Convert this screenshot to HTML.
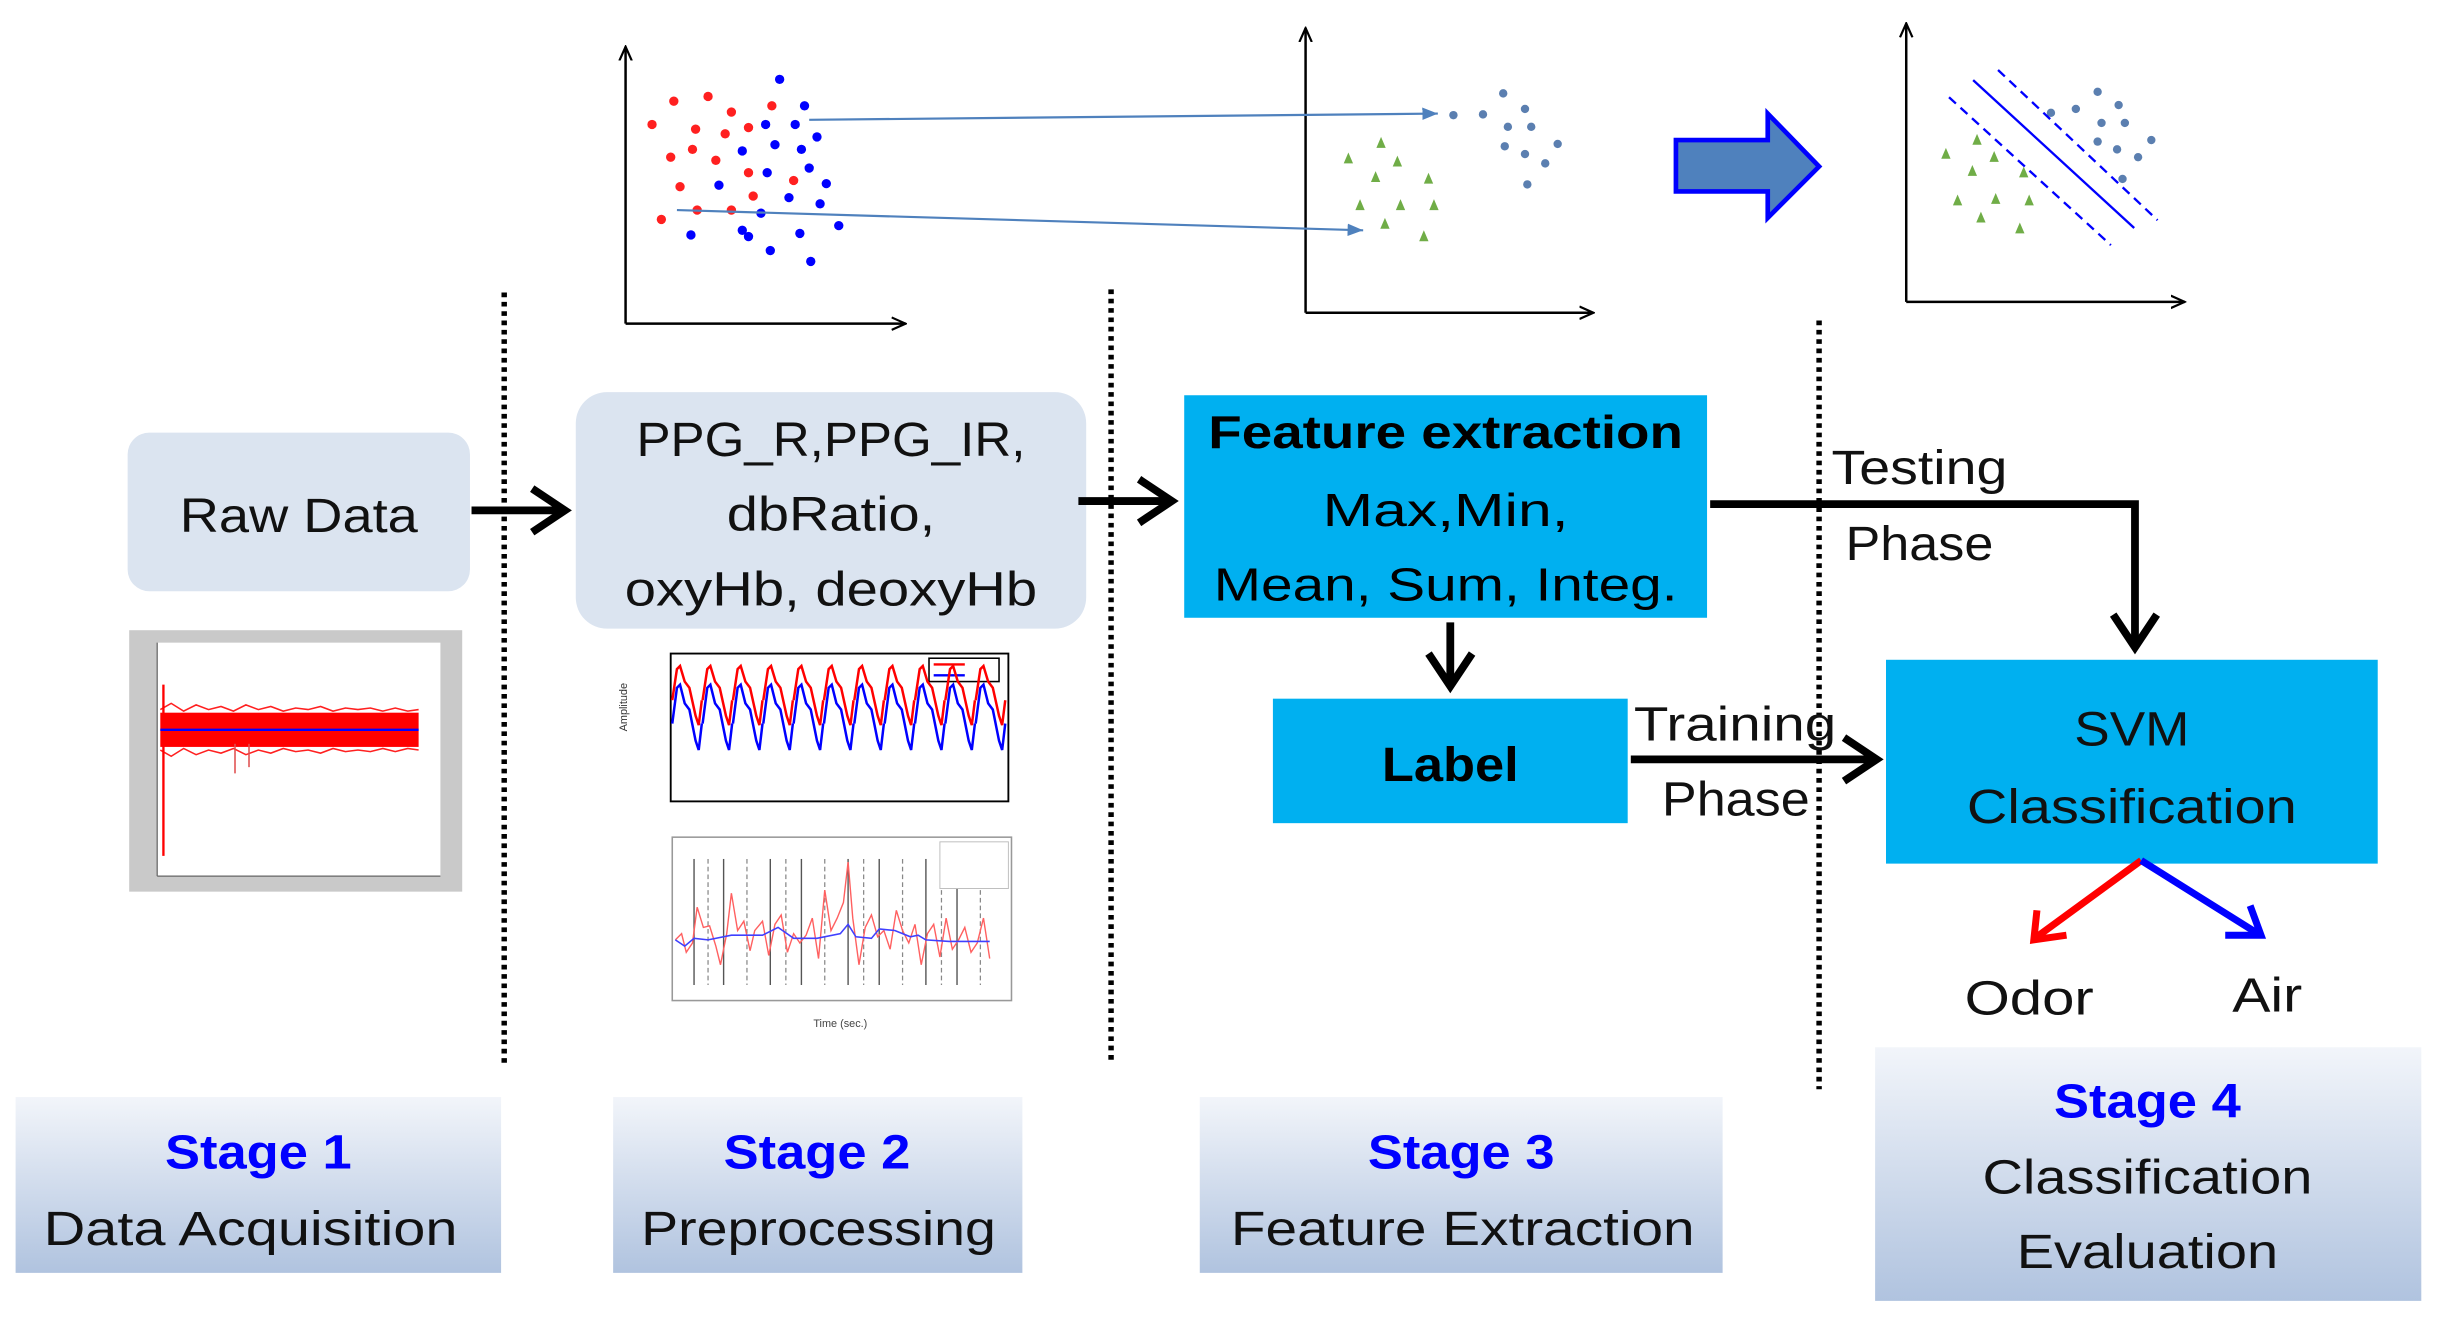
<!DOCTYPE html>
<html><head><meta charset="utf-8"><style>
html,body{margin:0;padding:0;background:#fff;}
svg{display:block;}
text{font-family:"Liberation Sans",sans-serif;}
</style></head><body>
<svg width="2440" height="1318" viewBox="0 0 1568 847" xmlns="http://www.w3.org/2000/svg">
<defs>
<linearGradient id="sg" x1="0" y1="0" x2="0" y2="1">
<stop offset="0" stop-color="#f2f5fa"/><stop offset="1" stop-color="#b0c3df"/>
</linearGradient>
<marker id="ah" markerWidth="10" markerHeight="10" refX="9" refY="5" orient="auto" markerUnits="userSpaceOnUse">
<path d="M0,1 L9,5 L0,9" fill="none" stroke="#000" stroke-width="1.4"/></marker>
<marker id="ab" markerWidth="12" markerHeight="10" refX="10" refY="5" orient="auto" markerUnits="userSpaceOnUse">
<path d="M0,1 L10,5 L0,9 z" fill="#4f81bd"/></marker>
<g id="ppgR"><polyline points="0,30 3,10 5,8 8,18 11,22 15,40 17,46 19,30" fill="none" stroke="#ff0000" stroke-width="1.6"/></g>
<g id="ppgB"><polyline points="0,45 3,22 5,20 8,32 11,36 15,56 17,62 19,45" fill="none" stroke="#0000ff" stroke-width="1.6"/></g>
</defs>

<g stroke="#000" stroke-width="1.6">
<line x1="402" y1="208" x2="402" y2="30" marker-end="url(#ah)"/>
<line x1="402" y1="208" x2="582" y2="208" marker-end="url(#ah)"/>
<line x1="839" y1="201" x2="839" y2="18" marker-end="url(#ah)"/>
<line x1="839" y1="201" x2="1024" y2="201" marker-end="url(#ah)"/>
<line x1="1225" y1="194" x2="1225" y2="15" marker-end="url(#ah)"/>
<line x1="1225" y1="194" x2="1404" y2="194" marker-end="url(#ah)"/>
</g>
<g fill="#ff2020">
<circle cx="433" cy="65" r="3"/><circle cx="455" cy="62" r="3"/><circle cx="470" cy="72" r="3"/><circle cx="496" cy="68" r="3"/>
<circle cx="419" cy="80" r="3"/><circle cx="447" cy="83" r="3"/><circle cx="466" cy="86" r="3"/><circle cx="481" cy="82" r="3"/>
<circle cx="431" cy="101" r="3"/><circle cx="445" cy="96" r="3"/><circle cx="460" cy="103" r="3"/><circle cx="481" cy="111" r="3"/>
<circle cx="510" cy="116" r="3"/><circle cx="437" cy="120" r="3"/><circle cx="448" cy="135" r="3"/><circle cx="470" cy="135" r="3"/>
<circle cx="425" cy="141" r="3"/><circle cx="484" cy="126" r="3"/>
</g>
<g fill="#0000ff">
<circle cx="501" cy="51" r="3"/><circle cx="517" cy="68" r="3"/><circle cx="492" cy="80" r="3"/><circle cx="511" cy="80" r="3"/>
<circle cx="525" cy="88" r="3"/><circle cx="477" cy="97" r="3"/><circle cx="498" cy="93" r="3"/><circle cx="515" cy="96" r="3"/>
<circle cx="462" cy="119" r="3"/><circle cx="493" cy="111" r="3"/><circle cx="520" cy="108" r="3"/><circle cx="531" cy="118" r="3"/>
<circle cx="507" cy="127" r="3"/><circle cx="527" cy="131" r="3"/><circle cx="489" cy="137" r="3"/><circle cx="539" cy="145" r="3"/>
<circle cx="444" cy="151" r="3"/><circle cx="481" cy="152" r="3"/><circle cx="514" cy="150" r="3"/><circle cx="495" cy="161" r="3"/>
<circle cx="521" cy="168" r="3"/><circle cx="477" cy="148" r="3"/>
</g>
<g stroke="#4f81bd" stroke-width="1.4">
<line x1="520" y1="77" x2="924" y2="73" marker-end="url(#ab)"/>
<line x1="435" y1="135" x2="876" y2="148" marker-end="url(#ab)"/>
</g>
<g fill="#5b7fb0">
<circle cx="934" cy="74" r="2.7"/><circle cx="953" cy="73.5" r="2.7"/><circle cx="966" cy="60" r="2.7"/><circle cx="980" cy="70" r="2.7"/>
<circle cx="969" cy="81.5" r="2.7"/><circle cx="984" cy="81.5" r="2.7"/><circle cx="967" cy="94" r="2.7"/><circle cx="980" cy="99" r="2.7"/>
<circle cx="1001" cy="92.5" r="2.7"/><circle cx="993" cy="105" r="2.7"/><circle cx="981.5" cy="118.5" r="2.7"/>
<circle cx="1348" cy="59" r="2.7"/><circle cx="1361.5" cy="67.5" r="2.7"/><circle cx="1334" cy="70" r="2.7"/><circle cx="1318" cy="72.5" r="2.7"/>
<circle cx="1350.5" cy="79" r="2.7"/><circle cx="1365.5" cy="79" r="2.7"/><circle cx="1382.5" cy="90" r="2.7"/><circle cx="1348" cy="91" r="2.7"/>
<circle cx="1360.5" cy="96" r="2.7"/><circle cx="1374" cy="101" r="2.7"/><circle cx="1364" cy="115" r="2.7"/>
</g>
<g fill="#70ad47">
<path d="M866.5,98 l-3,7 h6z M887.5,88 l-3,7 h6z M898,100 l-3,7 h6z M884,110 l-3,7 h6z M918,111 l-3,7 h6z M874,128 l-3,7 h6z M900,128 l-3,7 h6z M921.5,128 l-3,7 h6z M890,140 l-3,7 h6z M915,148 l-3,7 h6z"/>
<path d="M1250.5,95 l-3,7 h6z M1270.5,86 l-3,7 h6z M1281.5,97 l-3,7 h6z M1267.5,106 l-3,7 h6z M1300.5,107 l-3,7 h6z M1258,125 l-3,7 h6z M1282.5,124 l-3,7 h6z M1304,125 l-3,7 h6z M1273,136 l-3,7 h6z M1298,143 l-3,7 h6z"/>
</g>
<g stroke="#0000ff" stroke-width="1.5">
<line x1="1268" y1="51.5" x2="1371.5" y2="146.5"/>
<line x1="1284" y1="45" x2="1386.5" y2="141.5" stroke-dasharray="6,4"/>
<line x1="1252.5" y1="62.5" x2="1356.5" y2="157.5" stroke-dasharray="6,4"/>
</g>
<path d="M1077,90 H1136 V73 L1169,107 L1136,140 V123 H1077 Z" fill="#4f81bd" stroke="#0000ff" stroke-width="3"/>

<g stroke="#000" stroke-width="3.5" stroke-dasharray="3,3">
<line x1="324" y1="188" x2="324" y2="686"/>
<line x1="714" y1="186" x2="714" y2="684"/>
<line x1="1169" y1="206" x2="1169" y2="700"/>
</g>

<rect x="82" y="278" width="220" height="102" rx="14" fill="#dbe4f0"/>
<text x="192" y="342" font-size="31" text-anchor="middle" fill="#111" textLength="153" lengthAdjust="spacingAndGlyphs">Raw Data</text>
<rect x="370" y="252" width="328" height="152" rx="20" fill="#dbe4f0"/>
<g font-size="31" text-anchor="middle" fill="#111">
<text x="534" y="293" textLength="250" lengthAdjust="spacingAndGlyphs">PPG_R,PPG_IR,</text>
<text x="534" y="341" textLength="134" lengthAdjust="spacingAndGlyphs">dbRatio,</text>
<text x="534" y="389" textLength="265" lengthAdjust="spacingAndGlyphs">oxyHb, deoxyHb</text>
</g>

<rect x="761" y="254" width="336" height="143" fill="#00b0f0"/>
<g font-size="30" text-anchor="middle" fill="#000">
<text x="929" y="288" font-weight="bold" textLength="305" lengthAdjust="spacingAndGlyphs">Feature extraction</text>
<text x="929" y="338" textLength="158" lengthAdjust="spacingAndGlyphs">Max,Min,</text>
<text x="929" y="386" textLength="298" lengthAdjust="spacingAndGlyphs">Mean, Sum, Integ.</text>
</g>
<rect x="818" y="449" width="228" height="80" fill="#00b0f0"/>
<text x="932" y="502" font-size="31" font-weight="bold" text-anchor="middle" textLength="88" lengthAdjust="spacingAndGlyphs">Label</text>
<rect x="1212" y="424" width="316" height="131" fill="#00b0f0"/>
<g font-size="31" text-anchor="middle" fill="#111">
<text x="1370" y="479" textLength="74" lengthAdjust="spacingAndGlyphs">SVM</text>
<text x="1370" y="529" textLength="212" lengthAdjust="spacingAndGlyphs">Classification</text>
</g>

<g stroke="#000" stroke-width="5" fill="none">
<line x1="303" y1="328" x2="362" y2="328"/><path d="M342,314 L363,328 L342,342"/>
<line x1="693" y1="322" x2="752" y2="322"/><path d="M732,308 L753,322 L732,336"/>
<line x1="932" y1="400" x2="932" y2="440"/><path d="M918,420 L932,441 L946,420"/>
<line x1="1048" y1="488" x2="1205" y2="488"/><path d="M1185,474 L1206,488 L1185,502"/>
<path d="M1099,324 H1372 V415"/><path d="M1358,395 L1372,416 L1386,395"/>
</g>
<g font-size="31" fill="#111">
<text x="1050" y="476" textLength="130" lengthAdjust="spacingAndGlyphs">Training</text>
<text x="1068" y="524" textLength="95" lengthAdjust="spacingAndGlyphs">Phase</text>
<text x="1177" y="311" textLength="113" lengthAdjust="spacingAndGlyphs">Testing</text>
<text x="1186" y="360" textLength="95" lengthAdjust="spacingAndGlyphs">Phase</text>
</g>

<g stroke-width="4.5" fill="none">
<path d="M1376,553 L1309,602" stroke="#ff0000"/><path d="M1309,585 L1307,604 L1328,601" stroke="#ff0000"/>
<path d="M1376,553 L1451,600" stroke="#0000ff"/><path d="M1430,601 L1453,601 L1446,582" stroke="#0000ff"/>
</g>
<text x="1304" y="652" font-size="31" text-anchor="middle" fill="#111" textLength="83" lengthAdjust="spacingAndGlyphs">Odor</text>
<text x="1457" y="650" font-size="31" text-anchor="middle" fill="#111" textLength="45" lengthAdjust="spacingAndGlyphs">Air</text>

<rect x="10" y="705" width="312" height="113" fill="url(#sg)"/>
<rect x="394" y="705" width="263" height="113" fill="url(#sg)"/>
<rect x="771" y="705" width="336" height="113" fill="url(#sg)"/>
<rect x="1205" y="673" width="351" height="163" fill="url(#sg)"/>
<g font-size="31" text-anchor="middle">
<text x="166" y="751" fill="#0000ff" font-weight="bold" textLength="120" lengthAdjust="spacingAndGlyphs">Stage 1</text>
<text x="161" y="800" fill="#111" textLength="266" lengthAdjust="spacingAndGlyphs">Data Acquisition</text>
<text x="525" y="751" fill="#0000ff" font-weight="bold" textLength="120" lengthAdjust="spacingAndGlyphs">Stage 2</text>
<text x="526" y="800" fill="#111" textLength="228" lengthAdjust="spacingAndGlyphs">Preprocessing</text>
<text x="939" y="751" fill="#0000ff" font-weight="bold" textLength="120" lengthAdjust="spacingAndGlyphs">Stage 3</text>
<text x="940" y="800" fill="#111" textLength="298" lengthAdjust="spacingAndGlyphs">Feature Extraction</text>
<text x="1380" y="718" fill="#0000ff" font-weight="bold" textLength="120" lengthAdjust="spacingAndGlyphs">Stage 4</text>
<text x="1380" y="767" fill="#111" textLength="212" lengthAdjust="spacingAndGlyphs">Classification</text>
<text x="1380" y="815" fill="#111" textLength="168" lengthAdjust="spacingAndGlyphs">Evaluation</text>
</g>

<rect x="83" y="405" width="214" height="168" fill="#c9c9c9"/>
<rect x="101" y="413" width="182" height="150" fill="#fff"/>
<rect x="103" y="458" width="166" height="22" fill="#ff0000"/>
<polyline fill="none" stroke="#ff2020" stroke-width="1" points="103,456 110,452 118,457 126,453 134,456 142,454 150,457 158,453 166,456 174,454 182,457 190,455 198,456 206,454 214,457 222,455 230,456 238,455 246,457 254,455 262,457 269,456"/>
<polyline fill="none" stroke="#ff2020" stroke-width="1" points="103,482 110,486 118,481 126,485 134,482 142,484 150,481 158,485 166,482 174,484 182,481 190,483 198,482 206,484 214,481 222,483 230,482 238,483 246,481 254,483 262,481 269,482"/>
<line x1="105" y1="440" x2="105" y2="550" stroke="#ff0000" stroke-width="1.5"/>
<line x1="151" y1="478" x2="151" y2="497" stroke="#e05050" stroke-width="1"/>
<line x1="160" y1="478" x2="160" y2="493" stroke="#e05050" stroke-width="1"/>
<line x1="103" y1="469" x2="269" y2="469" stroke="#0000ff" stroke-width="1.5"/>
<line x1="101" y1="413" x2="101" y2="563" stroke="#666" stroke-width="0.8"/>
<line x1="101" y1="563" x2="283" y2="563" stroke="#666" stroke-width="0.8"/>

<rect x="431" y="420" width="217" height="95" fill="#fff" stroke="#000" stroke-width="1.2"/>
<rect x="597" y="423" width="45" height="15" fill="#fff" stroke="#000" stroke-width="1"/>
<line x1="600" y1="427" x2="620" y2="427" stroke="#f00" stroke-width="1.5"/>
<line x1="600" y1="434" x2="620" y2="434" stroke="#00f" stroke-width="1.5"/>
<g transform="translate(432,420)">
<use href="#ppgR"/><use href="#ppgR" x="19.5"/><use href="#ppgR" x="39"/><use href="#ppgR" x="58.5"/><use href="#ppgR" x="78"/><use href="#ppgR" x="97.5"/><use href="#ppgR" x="117"/><use href="#ppgR" x="136.5"/><use href="#ppgR" x="156"/><use href="#ppgR" x="175.5"/><use href="#ppgR" x="195"/>
<use href="#ppgB"/><use href="#ppgB" x="19.5"/><use href="#ppgB" x="39"/><use href="#ppgB" x="58.5"/><use href="#ppgB" x="78"/><use href="#ppgB" x="97.5"/><use href="#ppgB" x="117"/><use href="#ppgB" x="136.5"/><use href="#ppgB" x="156"/><use href="#ppgB" x="175.5"/><use href="#ppgB" x="195"/>
</g>
<text x="403" y="470" font-size="7" fill="#333" transform="rotate(-90 403 470)">Amplitude</text>

<rect x="432" y="538" width="218" height="105" fill="#fff" stroke="#999" stroke-width="1"/>
<g stroke="#555" stroke-width="0.9">
<line x1="446" y1="552" x2="446" y2="633"/><line x1="465" y1="552" x2="465" y2="633"/><line x1="495" y1="552" x2="495" y2="633"/><line x1="515" y1="552" x2="515" y2="633"/><line x1="545" y1="552" x2="545" y2="633"/><line x1="565" y1="552" x2="565" y2="633"/><line x1="595" y1="552" x2="595" y2="633"/><line x1="615" y1="552" x2="615" y2="633"/>
</g>
<g stroke="#888" stroke-width="0.8" stroke-dasharray="3,2">
<line x1="455" y1="552" x2="455" y2="633"/><line x1="480" y1="552" x2="480" y2="633"/><line x1="505" y1="552" x2="505" y2="633"/><line x1="530" y1="552" x2="530" y2="633"/><line x1="555" y1="552" x2="555" y2="633"/><line x1="580" y1="552" x2="580" y2="633"/><line x1="605" y1="552" x2="605" y2="633"/><line x1="630" y1="552" x2="630" y2="633"/>
</g>
<polyline fill="none" stroke="#ff6060" stroke-width="0.9" points="434,604 438,600 441,612 445,606 448,583 452,596 456,595 460,608 463,620 467,600 470,574 474,598 478,592 482,611 485,598 490,592 494,614 498,594 502,588 506,612 510,600 514,606 518,601 522,590 526,616 530,572 534,598 538,590 542,580 545,554 548,590 552,620 556,596 560,588 564,602 568,598 572,610 576,585 580,598 584,606 588,594 592,620 596,600 600,594 604,615 608,590 612,610 616,604 620,596 624,612 628,606 632,590 636,616"/>
<polyline fill="none" stroke="#4040ff" stroke-width="1" points="434,604 440,608 446,603 455,604 470,601 490,601 500,596 510,603 525,603 540,600 545,594 550,602 560,603 565,597 575,598 585,602 590,601 595,604 610,605 636,605"/>
<rect x="604" y="541" width="44" height="30" fill="#fff" stroke="#bbb" stroke-width="0.6"/>
<text x="540" y="660" font-size="7" text-anchor="middle" fill="#444">Time (sec.)</text>
</svg>
</body></html>
